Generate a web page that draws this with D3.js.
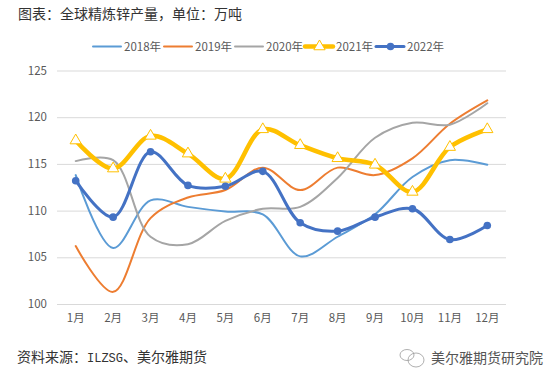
<!DOCTYPE html>
<html>
<head>
<meta charset="utf-8">
<script src="https://cdn.jsdelivr.net/npm/d3@7"></script>
<style>
  html, body { margin: 0; background: #fff; }
  text { font-family: "Noto Sans CJK SC", sans-serif; }
</style>
</head>
<body>
<div id="chart"></div>
<script>
//Data
const months = ['1月', '2月', '3月', '4月', '5月', '6月', '7月', '8月', '9月', '10月', '11月', '12月'];
const yTicks = [100, 105, 110, 115, 120, 125];
const seriesNames = ['2018年', '2019年', '2020年', '2021年', '2022年'];
const v2018 = [113.8, 106, 111.1, 110.4, 109.9, 109.6, 105.1, 107.2, 109.6, 113.6, 115.4, 114.9];
const v2019 = [106.2, 101.3, 109.2, 111.4, 112.2, 114.6, 112.2, 114.6, 113.8, 115.6, 119.3, 121.8];
const v2020 = [115.3, 115.4, 107.2, 106.4, 108.9, 110.2, 110.4, 113.5, 117.8, 119.4, 119.2, 121.5];
const v2021 = [117.5, 114.5, 118, 116.1, 113.4, 118.7, 117, 115.6, 114.9, 112, 116.8, 118.7];
const v2022 = [113.2, 109.3, 116.3, 112.7, 112.6, 114.2, 108.7, 107.8, 109.3, 110.2, 106.9, 108.4];
const allValues = [v2018, v2019, v2020, v2021, v2022];

const colors = ['#5b9bd5', '#ed7d31', '#a5a5a5', '#ffc000', '#4472c4'];
const widths = [2, 2, 2, 4.5, 3];
const legendX = [93, 164, 235, 305, 376];

//Create svg
const svg = d3.select('#chart')
  .append('svg')
  .attr('width', 560)
  .attr('height', 383)
  .style('display', 'block');

//Scales
const x = d3.scaleBand().domain(months).range([57, 506]);
const y = d3.scaleLinear().domain([100, 125]).range([304, 70.5]);
const cx = m => x(m) + x.bandwidth() / 2;

//Grid and y labels
const yAxis = svg.append('g')
  .attr('transform', 'translate(57,0)')
  .call(d3.axisLeft(y).tickValues(yTicks).tickSize(-449).tickPadding(10));
yAxis.select('.domain').remove();
yAxis.selectAll('line').attr('stroke', '#d9d9d9').attr('stroke-width', 1);
yAxis.selectAll('text')
  .attr('fill', '#595959')
  .style('font-size', '11.5px')
  .style('font-family', '"Noto Sans CJK SC", sans-serif');

//Month labels
const xAxis = svg.append('g')
  .attr('transform', 'translate(0,304)')
  .call(d3.axisBottom(x).tickSize(0).tickPadding(10));
xAxis.select('.domain').remove();
xAxis.selectAll('text')
  .attr('fill', '#595959')
  .style('font-size', '11.5px')
  .style('font-family', '"Noto Sans CJK SC", sans-serif');

//Lines
const line = d3.line()
  .x((d, i) => cx(months[i]))
  .y(d => y(d))
  .curve(d3.curveCatmullRom.alpha(0.5));

allValues.forEach((values, s) => {
  svg.append('path')
    .attr('d', line(values))
    .attr('fill', 'none')
    .attr('stroke', colors[s])
    .attr('stroke-width', widths[s])
    .attr('stroke-linecap', 'round');
});

const triangle = d3.symbol().type(d3.symbolTriangle).size(55);

//Markers for 2021 and 2022
svg.append('g').selectAll('path')
  .data(v2021)
  .enter()
  .append('path')
  .attr('d', triangle)
  .attr('transform', (d, i) => `translate(${cx(months[i])},${y(d)})`)
  .attr('fill', '#fff')
  .attr('stroke', colors[3])
  .attr('stroke-width', 1);

svg.append('g').selectAll('circle')
  .data(v2022)
  .enter()
  .append('circle')
  .attr('cx', (d, i) => cx(months[i]))
  .attr('cy', d => y(d))
  .attr('r', 3.8)
  .attr('fill', colors[4]);

//Legend
const legend = svg.append('g').selectAll('g')
  .data(seriesNames)
  .enter()
  .append('g')
  .attr('transform', (d, i) => `translate(${legendX[i]},46.5)`);

legend.append('line')
  .attr('x2', 28)
  .attr('stroke', (d, i) => colors[i])
  .attr('stroke-width', (d, i) => widths[i])
  .attr('stroke-linecap', 'round');

legend.filter((d, i) => i === 3).append('path')
  .attr('d', triangle)
  .attr('transform', 'translate(14.5,0)')
  .attr('fill', '#fff')
  .attr('stroke', colors[3]);

legend.filter((d, i) => i === 4).append('circle')
  .attr('cx', 14.5)
  .attr('r', 3.8)
  .attr('fill', colors[4]);

legend.append('text')
  .attr('x', 31)
  .attr('y', 4)
  .attr('fill', '#595959')
  .style('font-size', '11.5px')
  .text(d => d);

//Title and source
svg.append('text')
  .attr('x', 18)
  .attr('y', 19)
  .attr('fill', '#333')
  .style('font-size', '14px')
  .text('图表：全球精炼锌产量，单位：万吨');

const source = svg.append('text')
  .attr('x', 17)
  .attr('y', 362)
  .attr('fill', '#333')
  .style('font-size', '14px');
source.append('tspan').text('资料来源：');
source.append('tspan')
  .style('font-family', '"Liberation Mono", monospace')
  .style('font-size', '12px')
  .text('ILZSG');
source.append('tspan').text('、美尔雅期货');

//Watermark
const mark = svg.append('g')
  .attr('fill', 'none')
  .attr('stroke', '#9a9a9a')
  .attr('stroke-width', 0.8);
mark.append('ellipse').attr('cx', 416).attr('cy', 360).attr('rx', 8).attr('ry', 7);
mark.append('ellipse').attr('cx', 407).attr('cy', 355).attr('rx', 7).attr('ry', 5.5);

svg.append('text')
  .attr('x', 431)
  .attr('y', 363)
  .attr('fill', '#555')
  .style('font-size', '14px')
  .text('美尔雅期货研究院');
</script>
</body>
</html>
